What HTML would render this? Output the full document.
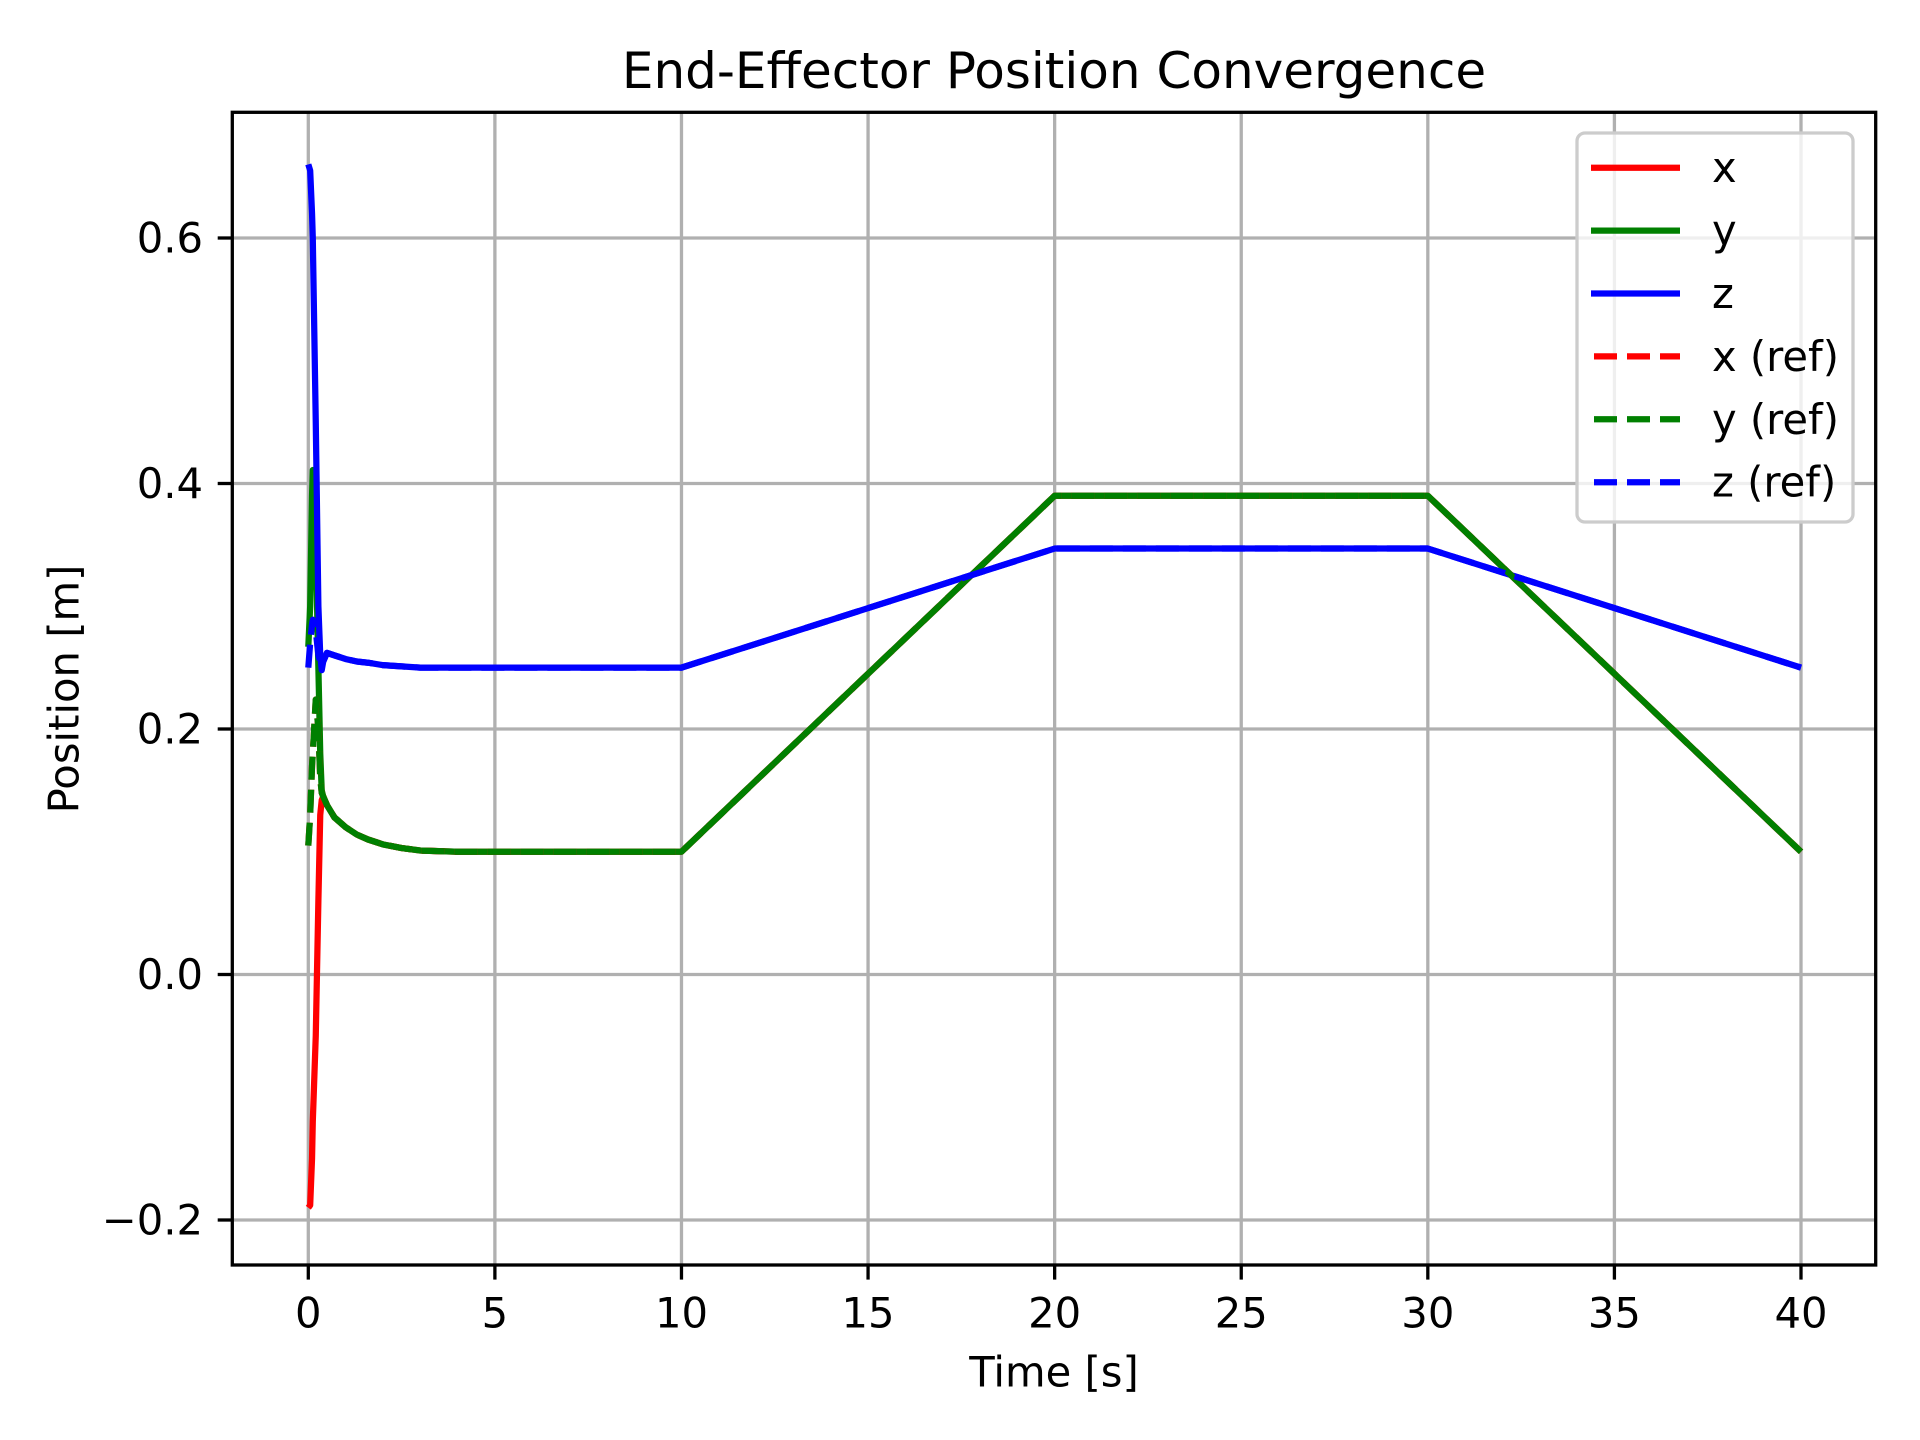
<!DOCTYPE html>
<html><head><meta charset="utf-8"><style>
html,body{margin:0;padding:0;background:#fff}
svg{display:block}
text{font-family:"DejaVu Sans","Liberation Sans",sans-serif;fill:#000}
</style></head><body>
<svg id="chart" width="1920" height="1440" viewBox="0 0 1920 1440" xmlns="http://www.w3.org/2000/svg">
<rect width="1920" height="1440" fill="#fff"/>
<text x="1054" y="71" font-size="50" text-anchor="middle" dominant-baseline="central">End-Effector Position Convergence</text>
<g id="grid"></g>
<g id="series"></g>
<rect x="232.3" y="112.3" width="1643.4" height="1152.7" fill="none" stroke="#000" stroke-width="3.3"/>
<g id="ticks"></g>
<text x="1054" y="1372" font-size="41.7" text-anchor="middle" dominant-baseline="central">Time [s]</text>
<text x="64" y="689" font-size="41.7" text-anchor="middle" dominant-baseline="central" transform="rotate(-90 64 689)">Position [m]</text>
<g id="legend">
<rect x="1577" y="133" width="276" height="389" rx="8" fill="#fff" fill-opacity="0.8" stroke="#ccc" stroke-width="3.3"/>
</g>
</svg>
<script>
const times=[0,0.05,0.1,0.12,0.2,0.27,0.32,0.36,0.4,0.5,0.7,1,1.3,1.6,2,2.5,3,4,6,10,20,30,40];
const xVals=[-0.19,-0.188,-0.15,-0.12,-0.05,0.06,0.13,0.142,0.145,0.138,0.128,0.12,0.114,0.11,0.106,0.103,0.101,0.1,0.1,0.1,0.39,0.39,0.1];
const yVals=[0.267,0.3,0.39,0.411,0.35,0.25,0.18,0.15,0.145,0.138,0.128,0.12,0.114,0.11,0.106,0.103,0.101,0.1,0.1,0.1,0.39,0.39,0.1];
const zVals=[0.66,0.655,0.62,0.6,0.45,0.3,0.26,0.248,0.255,0.262,0.26,0.257,0.255,0.254,0.252,0.251,0.25,0.25,0.25,0.25,0.347,0.347,0.25];
const xRefVals=[0.105,0.13,0.17,0.18,0.224,0.2,0.16,0.148,0.145,0.138,0.128,0.12,0.114,0.11,0.106,0.103,0.101,0.1,0.1,0.1,0.39,0.39,0.1];
const yRefVals=[0.105,0.13,0.17,0.18,0.224,0.2,0.16,0.148,0.145,0.138,0.128,0.12,0.114,0.11,0.106,0.103,0.101,0.1,0.1,0.1,0.39,0.39,0.1];
const zRefVals=[0.25,0.27,0.285,0.289,0.28,0.26,0.255,0.252,0.255,0.262,0.26,0.257,0.255,0.254,0.252,0.251,0.25,0.25,0.25,0.25,0.347,0.347,0.25];
const xTicks=[0,5,10,15,20,25,30,35,40];
const yTicks=[-0.2,0,0.2,0.4,0.6];
const yTickLabels=["\u22120.2","0.0","0.2","0.4","0.6"];
const legendLabels=["x","y","z","x (ref)","y (ref)","z (ref)"];

const NS="http://www.w3.org/2000/svg";
const L=232.3,R=1875.7,T=112.3,B=1265;
function sx(t){return 308.3+(t-0)*(1801-308.3)/40;}
function sy(v){return 974.5-v*1227.5;}
function mk(tag,attrs,parent){const e=document.createElementNS(NS,tag);for(const k in attrs)e.setAttribute(k,attrs[k]);parent.appendChild(e);return e;}
const grid=document.getElementById('grid'),ticks=document.getElementById('ticks'),ser=document.getElementById('series'),leg=document.getElementById('legend');
xTicks.forEach(t=>{
  const g=mk('line',{x1:sx(t),x2:sx(t),y1:T,y2:B,stroke:'#b0b0b0','stroke-width':3.3},grid);
  
  
  const tk=mk('line',{x1:sx(t),x2:sx(t),y1:B,y2:B+14.6,stroke:'#000','stroke-width':3.3},ticks);
  
  
  const tx=mk('text',{x:sx(t),y:1313,'font-size':41.7,'text-anchor':'middle','dominant-baseline':'central'},ticks);
  tx.textContent=String(t);
  
  
});
yTicks.forEach((v,i)=>{
  const g=mk('line',{x1:L,x2:R,y1:sy(v),y2:sy(v),stroke:'#b0b0b0','stroke-width':3.3},grid);
  
  
  const tk=mk('line',{x1:L-14.6,x2:L,y1:sy(v),y2:sy(v),stroke:'#000','stroke-width':3.3},ticks);
  
  
  const tx=mk('text',{x:203,y:sy(v),'font-size':41.7,'text-anchor':'end','dominant-baseline':'central'},ticks);
  tx.textContent=yTickLabels[i];
  
  
});
const seriesDefs=[
  {vals:xVals,color:'#ff0000',dash:null,name:'x-line'},
  {vals:yVals,color:'#008000',dash:null,name:'y-line'},
  {vals:zVals,color:'#0000ff',dash:null,name:'z-line'},
  {vals:xRefVals,color:'#ff0000',dash:'23 10',name:'x-ref-line'},
  {vals:yRefVals,color:'#008000',dash:'23 10',name:'y-ref-line'},
  {vals:zRefVals,color:'#0000ff',dash:'23 10',name:'z-ref-line'}
];
seriesDefs.forEach((s,i)=>{
  const pts=times.map((t,j)=>sx(t).toFixed(2)+','+sy(s.vals[j]).toFixed(2)).join(' ');
  const a={points:pts,fill:'none',stroke:s.color,'stroke-width':6.25,'stroke-linejoin':'round'};
  if(s.dash)a['stroke-dasharray']=s.dash;
  const p=mk('polyline',a,ser);
  
  
  const ly=167.7+i*62.9;
  const la={x1:1591,x2:1680,y1:ly,y2:ly,stroke:s.color,'stroke-width':6.25};
  if(s.dash){la['stroke-dasharray']=s.dash;la.x1=1594;}
  const ll=mk('line',la,leg);
  
  
  const lt=mk('text',{x:1712,y:ly,'font-size':41.7,'dominant-baseline':'central'},leg);
  lt.textContent=legendLabels[i];
  
  
});
</script>
</body></html>
